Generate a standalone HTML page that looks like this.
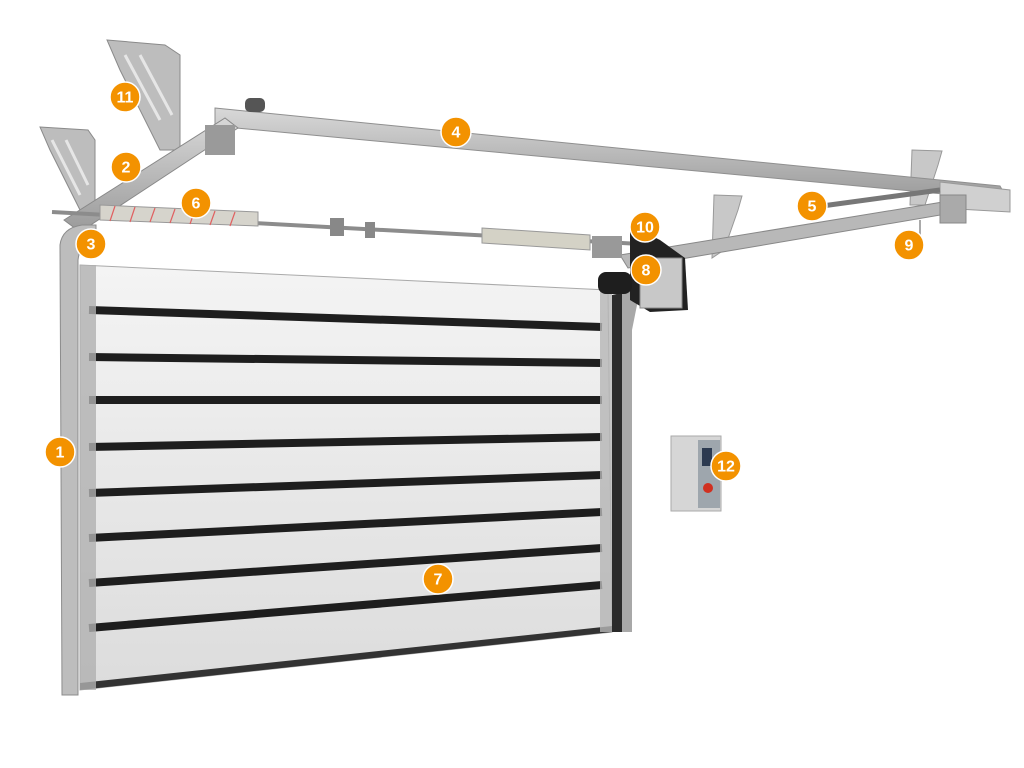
<!DOCTYPE html>
<html><head><meta charset="utf-8"><style>
html,body{margin:0;padding:0;background:#fff;width:1024px;height:768px;overflow:hidden}
svg{display:block}
.b text{font-family:"Liberation Sans",sans-serif;font-weight:bold;font-size:16px;fill:#fff;text-anchor:middle;dominant-baseline:central}
</style></head><body>
<svg width="1024" height="768" viewBox="0 0 1024 768" xmlns="http://www.w3.org/2000/svg">
<defs>
<linearGradient id="pan" x1="0" y1="0" x2="0" y2="1"><stop offset="0" stop-color="#f4f4f4"/><stop offset="1" stop-color="#dcdcdc"/></linearGradient>
<linearGradient id="met" x1="0" y1="0" x2="0" y2="1"><stop offset="0" stop-color="#d8d8d8"/><stop offset="1" stop-color="#9a9a9a"/></linearGradient>
</defs>
<!-- brackets -->
<polygon points="107,40 165,45 180,55 180,150 160,150 120,70" fill="#bdbdbd" stroke="#8a8a8a"/>
<path d="M125,55 L160,120 M140,55 L172,115" stroke="#e6e6e6" stroke-width="3"/>
<polygon points="40,127 88,130 95,140 95,210 80,210 50,150" fill="#bdbdbd" stroke="#8a8a8a"/>
<path d="M52,140 L80,195 M66,140 L88,185" stroke="#e6e6e6" stroke-width="3"/>
<polygon points="714,195 742,196 738,210 724,250 712,258" fill="#c8c8c8" stroke="#999"/>
<polygon points="912,150 942,151 938,165 925,205 910,205" fill="#c8c8c8" stroke="#999"/>
<!-- top rail -->
<polygon points="215,108 1000,186 1008,200 215,126" fill="url(#met)" stroke="#8f8f8f"/>
<rect x="245" y="98" width="20" height="14" rx="5" fill="#555"/>
<polygon points="940,182 1010,190 1010,212 940,208" fill="#d0d0d0" stroke="#999"/>
<!-- diagonal left track -->
<polygon points="64,220 225,118 238,128 80,232" fill="url(#met)" stroke="#888"/>
<rect x="205" y="125" width="30" height="30" fill="#9a9a9a"/>
<!-- right horizontal track -->
<polygon points="620,255 955,200 958,212 628,268" fill="#b8b8b8" stroke="#888"/>
<rect x="940" y="195" width="26" height="28" fill="#aaa" stroke="#888"/>
<line x1="822" y1="206" x2="940" y2="190" stroke="#777" stroke-width="5"/>
<line x1="920" y1="220" x2="920" y2="240" stroke="#aaa" stroke-width="2"/>
<!-- shaft and springs -->
<line x1="52" y1="212" x2="640" y2="244" stroke="#8c8c8c" stroke-width="4"/>
<polygon points="100,205 258,212 258,226 100,220" fill="#d6d4cc" stroke="#999"/>
<g stroke="#e06060" stroke-width="1.2"><line x1="115" y1="206" x2="110" y2="221"/><line x1="135" y1="207" x2="130" y2="222"/><line x1="155" y1="208" x2="150" y2="222"/><line x1="175" y1="209" x2="170" y2="223"/><line x1="195" y1="210" x2="190" y2="224"/><line x1="215" y1="211" x2="210" y2="225"/><line x1="235" y1="212" x2="230" y2="226"/></g>
<polygon points="482,228 590,235 590,250 482,243" fill="#d4d2c6" stroke="#999"/>
<rect x="330" y="218" width="14" height="18" fill="#888"/>
<rect x="365" y="222" width="10" height="16" fill="#888"/>
<!-- left frame -->
<path d="M60,245 Q62,228 82,225 L96,225 L96,240 Q80,242 78,260 L78,695 L62,695 Z" fill="#bdbdbd" stroke="#8c8c8c"/>
<!-- door -->
<polygon points="80,265 608,290 612,632 80,690" fill="url(#pan)" stroke="#aaa"/>
<polygon points="80,683 612,626 612,632 80,690" fill="#333"/>
<g stroke="#1e1e1e" stroke-width="8">
<line x1="89" y1="310" x2="602" y2="327"/>
<line x1="89" y1="357" x2="602" y2="363"/>
<line x1="89" y1="400" x2="602" y2="400"/>
<line x1="89" y1="447" x2="602" y2="437"/>
<line x1="89" y1="493" x2="602" y2="475"/>
<line x1="89" y1="538" x2="602" y2="512"/>
<line x1="89" y1="583" x2="602" y2="548"/>
<line x1="89" y1="628" x2="602" y2="585"/>
</g>
<rect x="80" y="265" width="16" height="425" fill="#b0b0b0" opacity="0.8"/>
<rect x="600" y="290" width="12" height="342" fill="#b5b5b5" opacity="0.8"/>
<!-- right frame -->
<polygon points="612,295 626,292 626,632 612,632" fill="#2a2a2a"/>
<path d="M622,290 L640,290 L632,330 L632,632 L622,632 Z" fill="#a8a8a8"/>
<!-- motor -->
<polygon points="630,225 660,240 685,258 688,310 650,312 630,300" fill="#222"/>
<rect x="640" y="258" width="42" height="50" fill="#c8c8c8" stroke="#888"/>
<rect x="598" y="272" width="34" height="22" rx="8" fill="#1e1e1e"/>
<rect x="592" y="236" width="30" height="22" fill="#999"/>
<!-- control box -->
<rect x="671" y="436" width="50" height="75" fill="#d6d6d6" stroke="#aaa"/>
<rect x="698" y="440" width="22" height="68" fill="#9ea6ad"/>
<rect x="702" y="448" width="10" height="18" fill="#2c3a50"/>
<circle cx="708" cy="488" r="5" fill="#d03020"/>
<!-- badges -->
<g class="b" fill="#f39200" stroke="#fff" stroke-width="1.5">
<g><circle cx="60" cy="452" r="15"/><text x="60" y="453" stroke="none">1</text></g>
<g><circle cx="126" cy="167" r="15"/><text x="126" y="168" stroke="none">2</text></g>
<g><circle cx="91" cy="244" r="15"/><text x="91" y="245" stroke="none">3</text></g>
<g><circle cx="456" cy="132" r="15"/><text x="456" y="133" stroke="none">4</text></g>
<g><circle cx="812" cy="206" r="15"/><text x="812" y="207" stroke="none">5</text></g>
<g><circle cx="196" cy="203" r="15"/><text x="196" y="204" stroke="none">6</text></g>
<g><circle cx="438" cy="579" r="15"/><text x="438" y="580" stroke="none">7</text></g>
<g><circle cx="646" cy="270" r="15"/><text x="646" y="271" stroke="none">8</text></g>
<g><circle cx="909" cy="245" r="15"/><text x="909" y="246" stroke="none">9</text></g>
<g><circle cx="645" cy="227" r="15"/><text x="645" y="228" stroke="none">10</text></g>
<g><circle cx="125" cy="97" r="15"/><text x="125" y="98" stroke="none">11</text></g>
<g><circle cx="726" cy="466" r="15"/><text x="726" y="467" stroke="none">12</text></g>
</g>
</svg>
</body></html>
